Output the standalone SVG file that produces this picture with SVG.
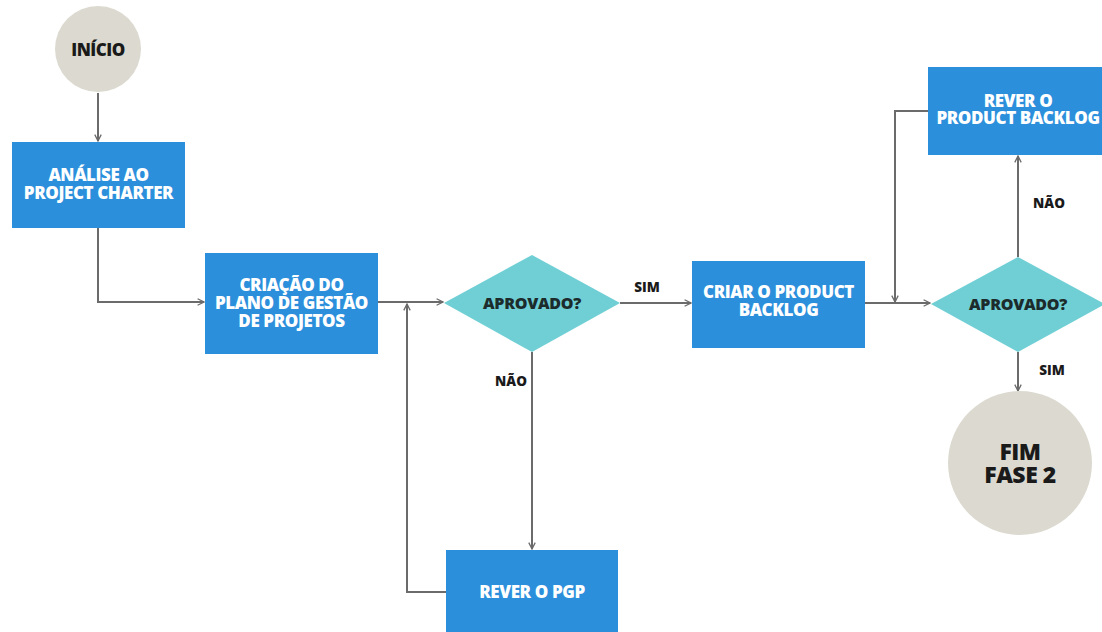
<svg xmlns="http://www.w3.org/2000/svg" width="1102" height="632" viewBox="0 0 1102 632">
<defs>
<marker id="arr" viewBox="0 0 10 10" refX="9" refY="5" markerWidth="8" markerHeight="8" markerUnits="userSpaceOnUse" orient="auto">
<path d="M1,1 L9,5 L1,9" fill="none" stroke="#6b6b6b" stroke-width="1.6"/>
</marker>
<style>
.box{fill:#2b8fdc}
.dia{fill:#70cfd5}
.circ{fill:#dcdad0}
.bt{font-family:"Open Sans","Liberation Sans",sans-serif;font-weight:800;font-size:17px;fill:#ffffff;text-anchor:middle;letter-spacing:-0.4px}
.dt{font-family:"Open Sans","Liberation Sans",sans-serif;font-weight:800;font-size:16px;fill:#1c2b2b;text-anchor:middle;letter-spacing:-0.3px}
.ct{font-family:"Open Sans","Liberation Sans",sans-serif;font-weight:800;fill:#1a1a1a;text-anchor:middle;letter-spacing:-0.5px}
.lb{font-family:"Open Sans","Liberation Sans",sans-serif;font-weight:800;font-size:13.5px;fill:#1a1a1a;text-anchor:middle}
.ln{fill:none;stroke:#6b6b6b;stroke-width:2}
</style>
</defs>
<rect width="1102" height="632" fill="#ffffff"/>
<g id="connectors">
<path class="ln" d="M98,93 L98,141" marker-end="url(#arr)"/>
<path class="ln" d="M98,228 L98,302 L204,302" marker-end="url(#arr)"/>
<path class="ln" d="M378,302 L443,302" marker-end="url(#arr)"/>
<path class="ln" d="M620,303 L691,303" marker-end="url(#arr)"/>
<path class="ln" d="M865,303 L930,303" marker-end="url(#arr)"/>
<path class="ln" d="M1018,257 L1018,156" marker-end="url(#arr)"/>
<path class="ln" d="M928,111 L895,111 L895,302" marker-end="url(#arr)"/>
<path class="ln" d="M1018,352 L1018,391" marker-end="url(#arr)"/>
<path class="ln" d="M532,352 L532,549" marker-end="url(#arr)"/>
<path class="ln" d="M446,592 L407,592 L407,304" marker-end="url(#arr)"/>
<text class="lb" x="647" y="292">SIM</text>
<text class="lb" x="511" y="386">NÃO</text>
<text class="lb" x="1049" y="208">NÃO</text>
<text class="lb" x="1052" y="375">SIM</text>
</g>
<g id="inicio">
<circle class="circ" cx="98" cy="49" r="43"/>
<text class="ct" x="98" y="56" font-size="17">INÍCIO</text>
</g>
<g id="analise">
<rect class="box" x="12" y="142" width="173" height="86"/>
<text class="bt" x="98.5" y="181">ANÁLISE AO</text>
<text class="bt" x="98.5" y="199">PROJECT CHARTER</text>
</g>
<g id="criacao">
<rect class="box" x="205" y="253" width="173" height="101"/>
<text class="bt" x="291.5" y="291">CRIAÇÃO DO</text>
<text class="bt" x="291.5" y="309">PLANO DE GESTÃO</text>
<text class="bt" x="291.5" y="327">DE PROJETOS</text>
</g>
<g id="aprovado1">
<polygon class="dia" points="444,303 532,255 620,303 532,352"/>
<text class="dt" x="532" y="309">APROVADO?</text>
</g>
<g id="rever-pgp">
<rect class="box" x="446" y="550" width="172" height="90"/>
<text class="bt" x="532" y="598">REVER O PGP</text>
</g>
<g id="criar-backlog">
<rect class="box" x="692" y="261" width="173" height="87"/>
<text class="bt" x="778.5" y="298">CRIAR O PRODUCT</text>
<text class="bt" x="778.5" y="316">BACKLOG</text>
</g>
<g id="aprovado2">
<polygon class="dia" points="931,304 1018,257 1105,304 1018,352"/>
<text class="dt" x="1018" y="310">APROVADO?</text>
</g>
<g id="rever-backlog">
<rect class="box" x="928" y="67" width="180" height="88"/>
<text class="bt" x="1018" y="107">REVER O</text>
<text class="bt" x="1018" y="124">PRODUCT BACKLOG</text>
</g>
<g id="fim">
<circle class="circ" cx="1020" cy="463" r="72"/>
<text class="ct" x="1020" y="460" font-size="23">FIM</text>
<text class="ct" x="1020" y="483" font-size="23">FASE 2</text>
</g>
</svg>
